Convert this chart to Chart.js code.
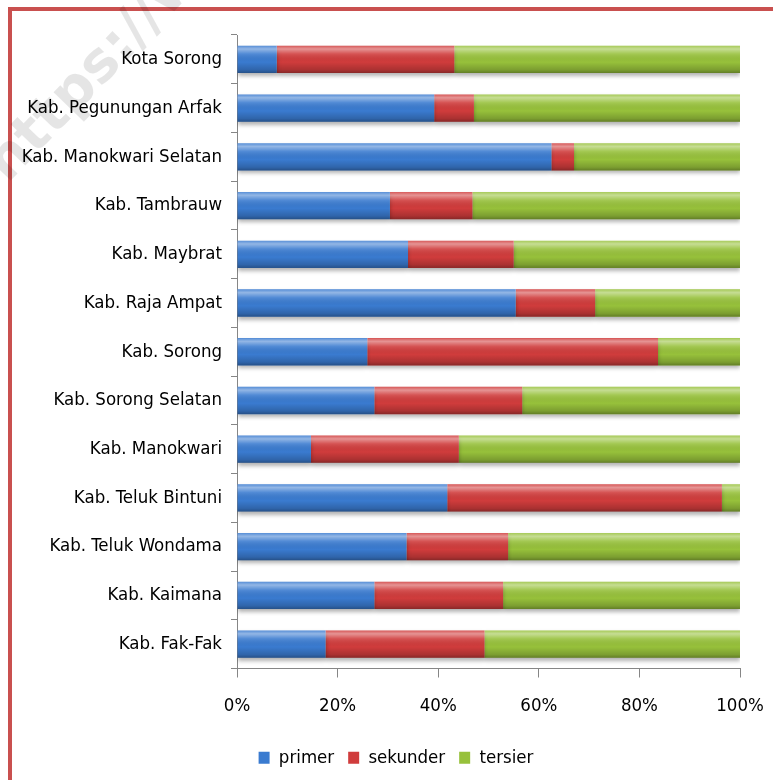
<!DOCTYPE html>
<html>
<head>
<meta charset="utf-8">
<script src="https://cdn.jsdelivr.net/npm/chart.js@4.4.1/dist/chart.umd.min.js"></script>
<style>
  html, body { margin: 0; padding: 0; background: #fff; overflow: hidden; }
  #wrap { position: relative; width: 773px; height: 780px; overflow: hidden; }
  #frame { position: absolute; left: 8px; top: 7px; width: 820px; height: 820px; border: 4px solid #c9504f; }
  #mark { position: absolute; left: -30px; top: 148px; font: 600 56px "DejaVu Sans", sans-serif; color: rgba(0,0,0,0.1);
          transform-origin: 0 0; transform: rotate(-46deg); white-space: nowrap; }
  canvas { position: absolute; left: 0; top: 0; }
</style>
</head>
<body>
<div id="wrap">
  <div id="frame"></div>
  <div id="mark">https://ww</div>
  <canvas id="stacked-bar" width="773" height="780"></canvas>
</div>
<script>
// Stacked 100% bar
// ------------------------------
var regions = ["Kota Sorong", "Kab. Pegunungan Arfak", "Kab. Manokwari Selatan", "Kab. Tambrauw", "Kab. Maybrat",
    "Kab. Raja Ampat", "Kab. Sorong", "Kab. Sorong Selatan", "Kab. Manokwari", "Kab. Teluk Bintuni",
    "Kab. Teluk Wondama", "Kab. Kaimana", "Kab. Fak-Fak"];

var primer   = [7.9, 39.2, 62.5, 30.4, 34.0, 55.4, 25.9, 27.3, 14.7, 41.8, 33.7, 27.3, 17.6];
var sekunder = [35.3, 7.9, 4.5, 16.4, 21.0, 15.8, 57.8, 29.4, 29.4, 54.6, 20.2, 25.6, 31.6];
var tersier  = [56.8, 52.9, 33.0, 53.2, 45.0, 28.8, 16.3, 43.3, 55.9, 3.6, 46.1, 47.1, 50.8];

var percentTicks = [0, 20, 40, 60, 80, 100];

var labelFont = { family: "'DejaVu Sans Condensed', 'DejaVu Sans', sans-serif", size: 18.5 };

// shade each bar like a rounded tube: highlight on top, darker underneath
var tubeShade = {
    id: 'tubeShade',
    beforeDatasetsDraw: function (chart) {
        var ctx = chart.ctx;
        ctx.save();
        ctx.shadowColor = 'rgba(0,0,0,0.3)';
        ctx.shadowBlur = 4;
        ctx.shadowOffsetY = 3;
    },
    afterDatasetsDraw: function (chart) {
        var ctx = chart.ctx;
        ctx.restore();
        ctx.save();
        chart.data.datasets.forEach(function (ds, i) {
            var meta = chart.getDatasetMeta(i);
            meta.data.forEach(function (bar) {
                var p = bar.getProps(['x', 'y', 'base', 'height'], true);
                var left = Math.min(p.x, p.base), right = Math.max(p.x, p.base);
                var top = p.y - p.height / 2;
                var g = ctx.createLinearGradient(0, top, 0, top + p.height);
                g.addColorStop(0, 'rgba(255,255,255,0.15)');
                g.addColorStop(0.12, 'rgba(255,255,255,0.45)');
                g.addColorStop(0.3, 'rgba(255,255,255,0.12)');
                g.addColorStop(0.6, 'rgba(0,0,0,0)');
                g.addColorStop(0.88, 'rgba(0,0,0,0.18)');
                g.addColorStop(1, 'rgba(0,0,0,0.35)');
                ctx.fillStyle = g;
                ctx.fillRect(left, top, right - left, p.height);
            });
        });
        ctx.restore();
    }
};

// legend sits a little right of the canvas centre
var legendNudge = {
    id: 'legendNudge',
    afterLayout: function (chart) {
        chart.legend.left += 26;
        chart.legend.right += 26;
        chart.legend.top -= 3;
        chart.legend.bottom -= 3;
    }
};

var ctx = document.getElementById("stacked-bar");

var chartData = {
    labels: regions,
    datasets: [
        { label: "primer",   data: primer,   backgroundColor: '#3a7bd0' },
        { label: "sekunder", data: sekunder, backgroundColor: '#d03c3c' },
        { label: "tersier",  data: tersier,  backgroundColor: '#97c13b' }
    ]
};

var chartOptions = {
    indexAxis: 'y',
    responsive: false,
    animation: false,
    barPercentage: 0.56,
    categoryPercentage: 1,
    layout: { padding: { top: 35, right: 33, left: 0, bottom: 0 } },
    scales: {
        x: {
            stacked: true,
            min: 0,
            max: 100,
            afterBuildTicks: function (scale) {
                scale.ticks = percentTicks.map(function (v) { return { value: v }; });
            },
            afterFit: function (scale) {
                scale.height = 69;
                scale.paddingLeft = 0;
                scale.paddingRight = 0;
            },
            ticks: {
                color: '#000',
                font: labelFont,
                padding: 18,
                maxRotation: 0,
                callback: function (v) { return v + '%'; }
            },
            grid: { drawOnChartArea: false, tickLength: 9, color: '#868686' },
            border: { color: '#868686' }
        },
        y: {
            stacked: true,
            afterFit: function (scale) { scale.width = 237; },
            ticks: { color: '#000', font: labelFont, padding: 9 },
            grid: { drawOnChartArea: false, tickLength: 6, color: '#868686' },
            border: { color: '#868686' }
        }
    },
    plugins: {
        tooltip: { enabled: false },
        legend: {
            position: 'bottom',
            labels: {
                color: '#000',
                font: labelFont,
                boxWidth: 11,
                boxHeight: 12,
                padding: 14
            }
        }
    }
};

var config = {
    type: 'bar',
    options: chartOptions,
    data: chartData,
    plugins: [tubeShade, legendNudge]
};

var stackedBarChart = new Chart(ctx, config);
</script>
</body>
</html>
